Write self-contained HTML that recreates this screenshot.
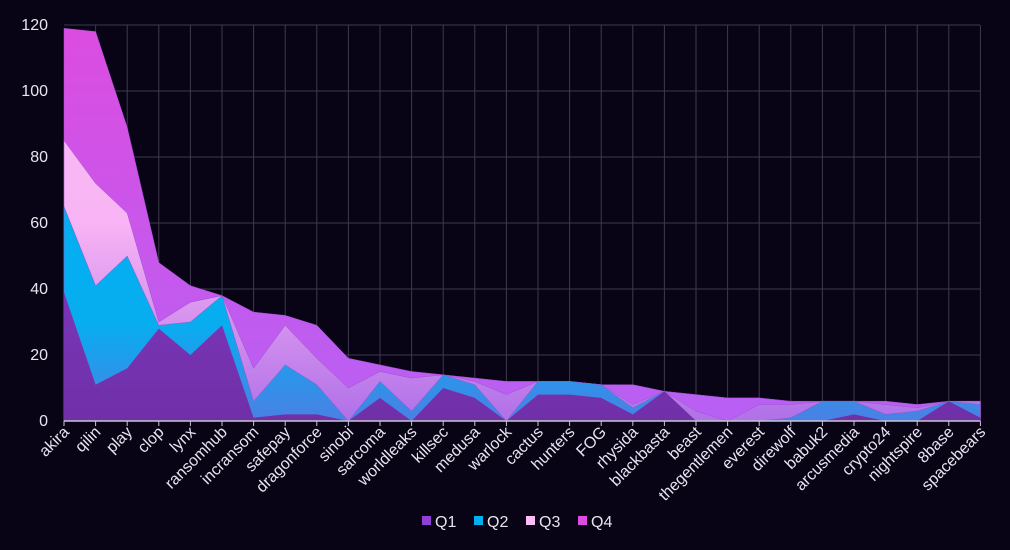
<!DOCTYPE html>
<html><head><meta charset="utf-8"><style>
body{margin:0;background:#080415;}
svg{display:block;font-family:"Liberation Sans",sans-serif;}
</style></head><body>
<svg id="c" width="1010" height="550" viewBox="0 0 1010 550" xmlns="http://www.w3.org/2000/svg">
<defs>
<linearGradient id="g1" gradientUnits="userSpaceOnUse" x1="0" y1="25" x2="0" y2="421"><stop offset="0" stop-color="#9040d8"/><stop offset="1" stop-color="#7030a8"/></linearGradient>
<linearGradient id="g2" gradientUnits="userSpaceOnUse" x1="0" y1="25" x2="0" y2="421"><stop offset="0" stop-color="#00b0f0"/><stop offset="0.75" stop-color="#06aef0"/><stop offset="1" stop-color="#4a80e4"/></linearGradient>
<linearGradient id="g3" gradientUnits="userSpaceOnUse" x1="0" y1="25" x2="0" y2="421"><stop offset="0" stop-color="#fcbcf8"/><stop offset="0.5" stop-color="#f8b4f4"/><stop offset="1" stop-color="#b070e8"/></linearGradient>
<linearGradient id="g4" gradientUnits="userSpaceOnUse" x1="0" y1="25" x2="0" y2="421"><stop offset="0" stop-color="#dc4ce0"/><stop offset="1" stop-color="#b860f4"/></linearGradient>
</defs>
<g id="grid"></g>
<g id="areas"></g>
<g id="labels"></g>
<g font-size="16" fill="#e8e4f0">
<rect x="422" y="516" width="9" height="9" fill="#9040d8"/><text x="435" y="527">Q1</text>
<rect x="474" y="516" width="9" height="9" fill="#00b0f0"/><text x="487" y="527">Q2</text>
<rect x="526" y="516" width="9" height="9" fill="#fcbcf8"/><text x="539" y="527">Q3</text>
<rect x="578" y="516" width="9" height="9" fill="#dc4ce0"/><text x="591" y="527">Q4</text>
</g>
</svg>
<script>
var names=["akira","qilin","play","clop","lynx","ransomhub","incransom","safepay","dragonforce","sinobi","sarcoma","worldleaks","killsec","medusa","warlock","cactus","hunters","FOG","rhysida","blackbasta","beast","thegentlemen","everest","direwolf","babuk2","arcusmedia","crypto24","nightspire","8base","spacebears"];
var d=[[39,65,85,119],[11,41,72,118],[16,50,63,89],[28,29,30,48],[20,30,36,41],[29,38,38,38],[1,6,16,33],[2,17,29,32],[2,11,19,29],[0,0,10,19],[7,12,15,17],[0,3,13,15],[10,14,14,14],[7,11,12,13],[0,0,8,12],[8,12,12,12],[8,12,12,12],[7,11,11,11],[2,4,5,11],[9,9,9,9],[0,0,3,8],[0,0,0,7],[0,0,5,7],[0,1,5,6],[0,6,6,6],[2,6,6,6],[0,2,5,6],[0,3,4,5],[6,6,6,6],[1,5,6,6]];
var X=function(i){return 64+i*31.6},Y=function(v){return 421-v*3.3};
var ns="http://www.w3.org/2000/svg",g=document.getElementById('grid'),a=document.getElementById('areas'),l=document.getElementById('labels');
function el(p,t,at,tx){var e=document.createElementNS(ns,t);for(var k in at)e.setAttribute(k,at[k]);if(tx)e.textContent=tx;p.appendChild(e);return e;}
for(var v=20;v<=120;v+=20)el(g,'line',{x1:64,x2:980,y1:Y(v),y2:Y(v),stroke:'#3e3a4e','stroke-width':1});
for(var i=1;i<30;i++)el(g,'line',{x1:X(i),x2:X(i),y1:25,y2:421,stroke:'#3e3a4e','stroke-width':1});
for(var v=0;v<=120;v+=20)el(g,'text',{x:48,y:Y(v)+5,'text-anchor':'end','font-size':16,fill:'#e8e4f0'},String(v));
for(var s=3;s>=0;s--){var p='M'+X(0)+','+Y(0);for(var i=0;i<30;i++)p+=' L'+X(i).toFixed(1)+','+Y(d[i][s]).toFixed(1);p+=' L'+X(29)+','+Y(0)+'Z';el(a,'path',{d:p,fill:'url(#g'+(s+1)+')',stroke:s==0?'none':'#a050d0','stroke-width':0.5});}
el(a,'line',{x1:64,x2:980,y1:421,y2:421,stroke:'#c8c4d0','stroke-width':1.5});
for(var i=0;i<30;i++){el(a,'line',{x1:X(i),x2:X(i),y1:421,y2:426,stroke:'#c8c4d0'});
el(l,'text',{x:0,y:0,'text-anchor':'end','font-size':16,fill:'#e8e4f0',transform:'translate('+(X(i)+6)+',433) rotate(-45)'},names[i]);}
</script>
</body></html>
